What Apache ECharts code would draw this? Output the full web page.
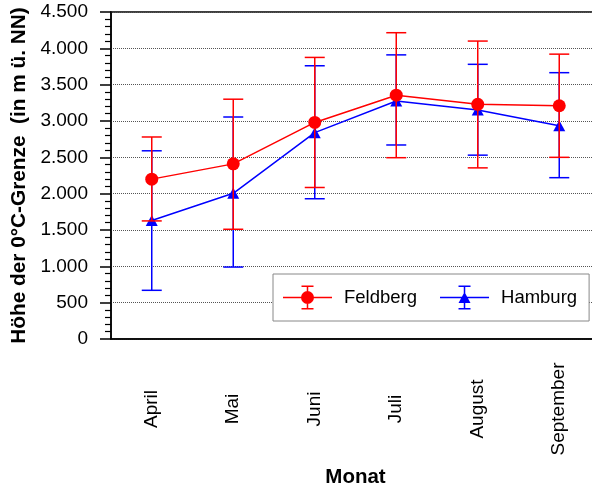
<!DOCTYPE html>
<html>
<head>
<meta charset="utf-8">
<script src="https://cdn.jsdelivr.net/npm/echarts@6/dist/echarts.min.js"></script>
<style>
html,body{margin:0;padding:0;background:#fff;}
#chart{width:592px;height:488px;}
</style>
</head>
<body>
<div id="chart"></div>
<script>
const months = ['April', 'Mai', 'Juni', 'Juli', 'August', 'September'];
const yTicks = [0, 500, 1000, 1500, 2000, 2500, 3000, 3500, 4000, 4500];

const feldbergMean = [2200, 2410, 2980, 3355, 3230, 3210];
const feldbergLow  = [1625, 1510, 2085, 2495, 2355, 2500];
const feldbergHigh = [2780, 3300, 3875, 4215, 4100, 3920];

const hamburgMean = [1630, 2005, 2840, 3275, 3150, 2935];
const hamburgLow  = [670, 990, 1930, 2670, 2530, 2220];
const hamburgHigh = [2590, 3055, 3760, 3910, 3780, 3665];

const RED = '#ff0000';
const BLUE = '#0000ff';
const FONT = '"Liberation Sans", Arial, sans-serif';

function fmtDE(v) {
  return String(v).replace(/\B(?=(\d{3})+(?!\d))/g, '.');
}

function errData(low, high) {
  return months.map((m, i) => [i, low[i], high[i]]);
}

function errRender(color) {
  return function (params, api) {
    const i = api.value(0);
    const lo = api.coord([i, api.value(1)]);
    const hi = api.coord([i, api.value(2)]);
    const hw = 10;
    const style = { stroke: color, lineWidth: 1.5, fill: null };
    return {
      type: 'group',
      children: [
        { type: 'line', shape: { x1: lo[0], y1: lo[1], x2: hi[0], y2: hi[1] }, style: style },
        { type: 'line', shape: { x1: hi[0] - hw, y1: hi[1], x2: hi[0] + hw, y2: hi[1] }, style: style },
        { type: 'line', shape: { x1: lo[0] - hw, y1: lo[1], x2: lo[0] + hw, y2: lo[1] }, style: style }
      ]
    };
  };
}

const base = 'M0,11.25h49v1.5h-49z M23.75,0h1.5v24h-1.5z M18.5,0h12v1.5h-12z M18.5,22.5h12v1.5h-12z ';
const iconCircle = 'path://' + base + 'M18,12a6.5,6.5 0 1 1 13,0a6.5,6.5 0 1 1 -13,0z';
const iconTri = 'path://' + base + 'M24.5,6.5L30.5,17.5H18.5z';

const chart = echarts.init(document.getElementById('chart'), null, { renderer: 'canvas' });
chart.setOption({
  backgroundColor: '#fff',
  animation: false,
  textStyle: { fontFamily: FONT },
  grid: {
    left: 111, top: 12, right: -8, bottom: 149,
    containLabel: false,
    outerBoundsMode: 'none',
    show: true, borderColor: '#000', borderWidth: 1.5, backgroundColor: 'transparent'
  },
  legend: {
    orient: 'horizontal',
    left: 273, top: 274, width: 320,
    padding: [11.5, 12, 11.5, 10],
    itemWidth: 49, itemHeight: 24, itemGap: 23,
    borderColor: '#888', borderWidth: 1, backgroundColor: '#fff',
    textStyle: { fontSize: 18.5, color: '#000', fontFamily: FONT, padding: [0, 0, 0, 7] },
    itemStyle: { borderWidth: 0 },
    data: [
      { name: 'Feldberg', icon: iconCircle },
      { name: 'Hamburg', icon: iconTri }
    ]
  },
  xAxis: {
    type: 'category',
    data: months,
    boundaryGap: true,
    name: 'Monat',
    nameLocation: 'middle',
    nameGap: 128,
    nameTextStyle: { fontSize: 20.5, fontWeight: 'bold', color: '#000', fontFamily: FONT },
    axisLine: { lineStyle: { color: '#000', width: 1.5 } },
    axisTick: { alignWithLabel: true, length: 10, lineStyle: { color: '#000', width: 1.5 } },
    axisLabel: {
      rotate: 90, align: 'center', verticalAlign: 'middle', margin: 70,
      fontSize: 19, color: '#000', fontFamily: FONT
    },
    splitLine: { show: false }
  },
  yAxis: {
    type: 'value',
    min: yTicks[0], max: yTicks[yTicks.length - 1], interval: 500,
    name: 'Höhe der 0°C-Grenze  (in m ü. NN)',
    nameLocation: 'middle',
    nameGap: 79,
    nameTextStyle: { fontSize: 20.8, fontWeight: 'bold', color: '#000', fontFamily: FONT },
    axisLine: { show: true, lineStyle: { color: '#000', width: 1.5 } },
    axisTick: { show: true, length: 11, lineStyle: { color: '#000', width: 1.5 } },
    minorTick: { show: true, splitNumber: 5, length: 6, lineStyle: { color: '#000', width: 1.2 } },
    axisLabel: { margin: 23, fontSize: 19, color: '#000', fontFamily: FONT, formatter: fmtDE },
    splitLine: { show: true, lineStyle: { color: '#555', width: 1, type: [1, 1] } }
  },
  series: [
    {
      name: 'Hamburg-Fehler', type: 'custom', z: 2,
      renderItem: errRender(BLUE), data: errData(hamburgLow, hamburgHigh),
      encode: { x: 0, y: [1, 2] }
    },
    {
      name: 'Hamburg', type: 'line', z: 3, data: hamburgMean,
      symbol: 'triangle', symbolSize: [12, 11],
      lineStyle: { color: BLUE, width: 1.5 }, itemStyle: { color: BLUE }
    },
    {
      name: 'Feldberg-Fehler', type: 'custom', z: 4,
      renderItem: errRender(RED), data: errData(feldbergLow, feldbergHigh),
      encode: { x: 0, y: [1, 2] }
    },
    {
      name: 'Feldberg', type: 'line', z: 5, data: feldbergMean,
      symbol: 'circle', symbolSize: 13,
      lineStyle: { color: RED, width: 1.5 }, itemStyle: { color: RED }
    }
  ]
});
</script>
</body>
</html>
